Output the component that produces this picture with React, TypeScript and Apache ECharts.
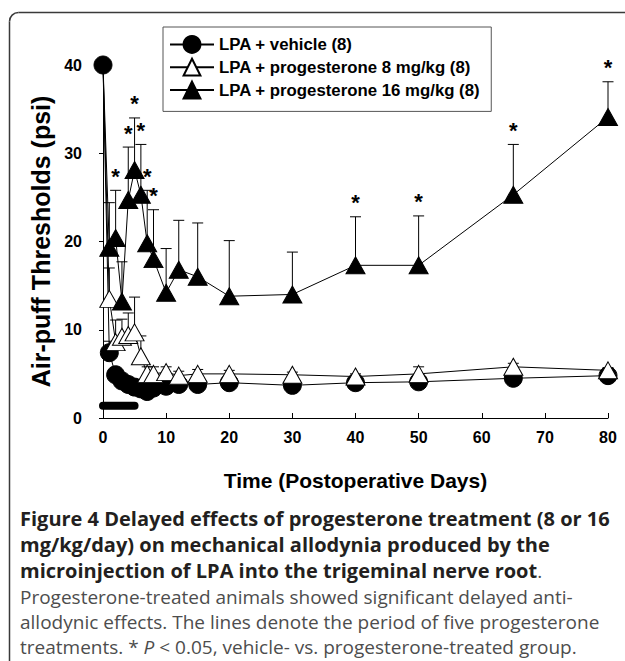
import React, { useEffect, useRef } from "react";
import * as echarts from "echarts";

const days = [0, 1, 2, 3, 4, 5, 6, 7, 8, 10, 12, 15, 20, 30, 40, 50, 65, 80];
const vehicle = [40, 7.4, 4.9, 4.2, 3.8, 3.5, 3.3, 3.0, 3.4, 3.6, 3.8, 3.8, 4.0, 3.7, 4.0, 4.1, 4.5, 4.8];
const vehicleErr = [0, 1.3, 0.6, 0.5, 0.4, 0.4, 0.4, 0.3, 0.4, 0.3, 0.3, 0.3, 0.3, 0.3, 0.3, 0.3, 0.3, 0.3];
const prog8 = [40, 13.5, 8.6, 9.2, 9.4, 9.7, 7.0, 5.0, 5.0, 5.2, 4.8, 5.0, 5.0, 4.9, 4.7, 5.0, 5.8, 5.4];
const prog8Err = [0, 3.5, 2.5, 2.0, 2.5, 4.0, 2.3, 0.8, 0.8, 0.6, 0.5, 0.5, 0.4, 0.3, 0.3, 0.8, 0.4, 0.3];
const prog16 = [40, 19.3, 20.4, 13.2, 24.7, 28.1, 25.3, 19.8, 18.0, 14.2, 16.8, 16.0, 13.8, 14.0, 17.3, 17.3, 25.3, 34.1];
const prog16Err = [0, 5.1, 5.4, 4.5, 6.0, 5.9, 5.7, 6.0, 5.6, 5.0, 5.6, 6.1, 6.3, 4.8, 5.5, 5.6, 5.7, 4.0];
const sigDays = [2, 4, 5, 6, 7, 8, 40, 50, 65, 80];
const treatmentDays = [0, 5];
const treatmentLevel = 1.4;
const yTicks = [0, 10, 20, 30, 40];
const xTicks = [0, 10, 20, 30, 40, 50, 60, 70, 80];

const names = [
  "LPA + vehicle (8)",
  "LPA + progesterone 8 mg/kg (8)",
  "LPA + progesterone 16 mg/kg (8)",
];

const captionBold = [
  "Figure 4 Delayed effects of progesterone treatment (8 or 16",
  "mg/kg/day) on mechanical allodynia produced by the",
  "microinjection of LPA into the trigeminal nerve root",
];
const captionRegular = [
  "Progesterone-treated animals showed significant delayed anti-",
  "allodynic effects. The lines denote the period of five progesterone",
];

const ARIAL = '"Liberation Sans", Arial, sans-serif';
const CAP = '"Open Sans", "Noto Sans", sans-serif';
const CAP_Y = [518, 544.5, 570.5, 596.5, 622, 647];

export default function App() {
  const ref = useRef<HTMLDivElement>(null);
  useEffect(() => {
    if (!ref.current) return;
    const chart = echarts.init(ref.current, null, { renderer: "svg" });

    const lineData = (vals: number[], hideFirst: boolean) =>
      days.map((d, i) =>
        hideFirst && i === 0 ? { value: [d, vals[i]], symbol: "none" } : { value: [d, vals[i]] }
      );
    const errData = (vals: number[], errs: number[]) => days.map((d, i) => [d, vals[i], errs[i]]);

    const errRender = (params: any, api: any) => {
      const x = api.value(0);
      const y = api.value(1);
      const e = api.value(2);
      if (!e) return null;
      const p0 = api.coord([x, y]);
      const p1 = api.coord([x, y + e]);
      return {
        type: "group",
        children: [
          { type: "line", shape: { x1: p0[0], y1: p0[1], x2: p1[0], y2: p1[1] }, style: { stroke: "#000", lineWidth: 1 } },
          { type: "line", shape: { x1: p1[0] - 5.5, y1: p1[1], x2: p1[0] + 5.5, y2: p1[1] }, style: { stroke: "#000", lineWidth: 1 } },
        ],
      };
    };

    const sigData = sigDays.map((d) => {
      const i = days.indexOf(d);
      return [d, prog16[i] + prog16Err[i]];
    });

    const boldRich = { fontFamily: CAP, fontWeight: "bold", fontSize: 20, lineHeight: 20, fill: "#231f20" };
    const regRich = { fontFamily: CAP, fontSize: 19, lineHeight: 19, fill: "#4d4d4d" };

    const option: any = {
      animation: false,
      backgroundColor: "#fff",
      grid: { left: 103, top: 65, width: 505, height: 353, containLabel: false },
      legend: {
        orient: "vertical",
        left: 163,
        top: 27,
        padding: [8, 11, 12, 6],
        itemGap: 4,
        itemWidth: 44,
        itemHeight: 21,
        borderColor: "#555",
        borderWidth: 1,
        data: names,
        textStyle: { fontFamily: ARIAL, fontWeight: "bold", fontSize: 16.8, color: "#000" },
      },
      xAxis: {
        type: "value",
        min: 0,
        max: 80,
        interval: 10,
        name: "Time (Postoperative Days)",
        nameLocation: "middle",
        nameGap: 52,
        nameTextStyle: { fontFamily: ARIAL, fontWeight: "bold", fontSize: 21, color: "#000" },
        axisLine: { show: true, lineStyle: { color: "#000", width: 1 } },
        axisTick: { show: true, inside: true, length: 5, lineStyle: { color: "#000" } },
        axisLabel: {
          margin: 11,
          fontFamily: ARIAL,
          fontWeight: "bold",
          fontSize: 16,
          color: "#000",
          formatter: (v: number) => (xTicks.includes(v) ? String(v) : ""),
        },
        splitLine: { show: false },
      },
      yAxis: {
        type: "value",
        min: 0,
        max: 40,
        interval: 10,
        offset: 12,
        name: "Air-puff Thresholds (psi)",
        nameLocation: "middle",
        nameGap: 36,
        nameTextStyle: { fontFamily: ARIAL, fontWeight: "bold", fontSize: 25, color: "#000" },
        axisLine: { show: true, lineStyle: { color: "#000", width: 1 } },
        axisTick: { show: true, inside: false, length: 4, lineStyle: { color: "#000" } },
        axisLabel: {
          margin: 9,
          fontFamily: ARIAL,
          fontWeight: "bold",
          fontSize: 16,
          color: "#000",
          formatter: (v: number) => (yTicks.includes(v) ? String(v) : ""),
        },
        splitLine: { show: false },
      },
      series: [
        { type: "custom", name: "err-vehicle", z: 1, renderItem: errRender, encode: { x: 0, y: 1 }, data: errData(vehicle, vehicleErr), silent: true },
        { type: "custom", name: "err-8", z: 1, renderItem: errRender, encode: { x: 0, y: 1 }, data: errData(prog8, prog8Err), silent: true },
        { type: "custom", name: "err-16", z: 1, renderItem: errRender, encode: { x: 0, y: 1 }, data: errData(prog16, prog16Err), silent: true },
        {
          type: "line",
          name: names[2],
          z: 3,
          symbol: "triangle",
          symbolSize: [19, 17],
          lineStyle: { color: "#000", width: 1 },
          itemStyle: { color: "#000", borderColor: "#000", borderWidth: 1 },
          data: lineData(prog16, true),
        },
        {
          type: "line",
          name: names[1],
          z: 2.5,
          symbol: "triangle",
          symbolSize: [19, 17],
          lineStyle: { color: "#000", width: 1 },
          itemStyle: { color: "#fff", borderColor: "#000", borderWidth: 1 },
          data: lineData(prog8, true),
        },
        {
          type: "line",
          name: names[0],
          z: 2,
          symbol: "circle",
          symbolSize: 18,
          lineStyle: { color: "#000", width: 1 },
          itemStyle: { color: "#000", borderColor: "#000", borderWidth: 1 },
          data: lineData(vehicle, false),
        },
        {
          type: "line",
          name: "treatment",
          z: 2,
          symbol: "none",
          lineStyle: { color: "#000", width: 8, cap: "round" },
          data: treatmentDays.map((d) => [d, treatmentLevel]),
        },
        {
          type: "custom",
          name: "significance",
          z: 4,
          encode: { x: 0, y: 1 },
          data: sigData,
          renderItem: (params: any, api: any) => {
            const p = api.coord([api.value(0), api.value(1)]);
            return {
              type: "text",
              x: p[0],
              y: p[1] - 14,
              style: {
                text: "*",
                fontFamily: ARIAL,
                fontWeight: "bold",
                fontSize: 22,
                fill: "#000",
                align: "center",
                verticalAlign: "middle",
              },
            };
          },
        },
      ],
      graphic: [
        { type: "line", z: -10, shape: { x1: 9.5, y1: 21.5, x2: 9.5, y2: 700 }, style: { stroke: "#3a3a3a", lineWidth: 1.5 } },
        { type: "line", z: -10, shape: { x1: 18.5, y1: 12.5, x2: 700, y2: 12.5 }, style: { stroke: "#3a3a3a", lineWidth: 1.5 } },
        {
          type: "arc",
          z: -10,
          shape: { cx: 18.5, cy: 21.5, r: 9, startAngle: Math.PI, endAngle: Math.PI * 1.5, clockwise: true },
          style: { stroke: "#3a3a3a", lineWidth: 1.5, fill: "none" },
        },
        ...captionBold.map((t, i) => ({
          type: "text",
          x: 20,
          y: CAP_Y[i],
          style: {
            text: i === 2 ? `{b|${t}}{r|.}` : `{b|${t}}`,
            verticalAlign: "middle",
            rich: { b: boldRich, r: regRich },
          },
        })),
        ...captionRegular.map((t, i) => ({
          type: "text",
          x: 20,
          y: CAP_Y[3 + i],
          style: { text: t, verticalAlign: "middle", ...regRich },
        })),
        {
          type: "text",
          x: 20,
          y: CAP_Y[5],
          style: {
            text: "{r|treatments. * }{i|P}{r| < 0.05, vehicle- vs. progesterone-treated group.}",
            verticalAlign: "middle",
            rich: { r: regRich, i: { ...regRich, fontStyle: "italic" } },
          },
        },
      ],
    };
    chart.setOption(option);
    return () => chart.dispose();
  }, []);
  return <div ref={ref} style={{ position: "absolute", left: 0, top: 0, width: 625, height: 661 }} />;
}
